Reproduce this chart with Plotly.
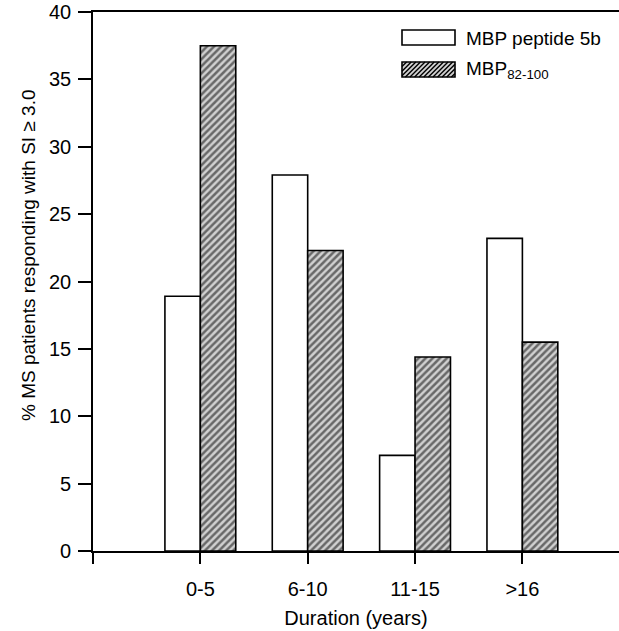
import plotly.graph_objects as go

categories = ["0-5", "6-10", "11-15", ">16"]
peptide_5b = [18.9, 27.9, 7.1, 23.2]
mbp_82_100 = [37.5, 22.3, 14.4, 15.5]
y_ticks = [0, 5, 10, 15, 20, 25, 30, 35, 40]
legend_labels = ["MBP peptide 5b", "MBP<sub>82-100</sub>"]

xpos = list(range(len(categories)))

FONT = "Liberation Sans, Arial, Helvetica, sans-serif"
W, H = 619, 631
L, R, T, B = 93, 0, 12, 80
PW, PH = W - L - R, H - T - B


def px(x):
    return (x - L) / PW


def py(y):
    return (H - B - y) / PH


HATCH = dict(shape="/", size=5, solidity=0.5, fgcolor="black", bgcolor="#d0d0d0")

fig = go.Figure()
fig.add_trace(go.Bar(
    x=xpos, y=peptide_5b, name=legend_labels[0], showlegend=False,
    marker=dict(color="white", line=dict(color="black", width=1.6)),
))
fig.add_trace(go.Bar(
    x=xpos, y=mbp_82_100, name=legend_labels[1], showlegend=False,
    marker=dict(color="white", line=dict(color="black", width=1.6), pattern=HATCH),
))

# manual legend (swatches + text)
shapes = []
annotations = []
sw_x0, sw_x1 = 402, 455
rows = [(30, 45), (62, 77)]
for i, (y0, y1) in enumerate(rows):
    shapes.append(dict(type="rect", xref="paper", yref="paper",
                       x0=px(sw_x0), x1=px(sw_x1), y0=py(y1), y1=py(y0),
                       line=dict(color="black", width=1.6),
                       fillcolor="white" if i == 0 else "#d0d0d0", layer="above"))
    if i == 1:
        wpx, hpx = sw_x1 - sw_x0, y1 - y0
        path = ""
        k = -hpx
        while k < wpx:
            t0 = max(0, -k)
            t1 = min(hpx, wpx - k)
            if t1 > t0:
                xa, ya = sw_x0 + k + t0, y1 - t0
                xb, yb = sw_x0 + k + t1, y1 - t1
                path += f"M{px(xa):.5f},{py(ya):.5f}L{px(xb):.5f},{py(yb):.5f}"
            k += 4.6
        shapes.append(dict(type="path", xref="paper", yref="paper", path=path,
                           line=dict(color="black", width=1.4), layer="above"))
    annotations.append(dict(xref="paper", yref="paper", x=px(464), y=py((y0 + y1) / 2 + 1),
                            xanchor="left", yanchor="middle", showarrow=False,
                            text=legend_labels[i], font=dict(size=19, family=FONT, color="black")))

# y-axis title
annotations.append(dict(xref="paper", yref="paper", x=px(28), y=py(255),
                        xanchor="center", yanchor="middle", showarrow=False, textangle=-90,
                        text="% MS patients responding with SI \u2265 3.0",
                        font=dict(size=19, family=FONT, color="black")))

fig.update_layout(
    width=W, height=H,
    margin=dict(l=L, r=R, t=T, b=B, autoexpand=False),
    paper_bgcolor="white", plot_bgcolor="white",
    barmode="group", bargap=0.34, bargroupgap=0,
    font=dict(family=FONT, size=20, color="black"),
    showlegend=False,
    shapes=shapes, annotations=annotations,
)
fig.update_xaxes(
    range=[-1, 3.9], automargin=False,
    tickmode="array", tickvals=[-1] + xpos, ticktext=[" "] + categories,
    ticks="outside", ticklen=11, tickwidth=1.6, tickcolor="black",
    ticklabelstandoff=8,
    showline=True, linecolor="black", linewidth=1.6, mirror=True,
    showgrid=False, zeroline=False,
    tickfont=dict(size=20, family=FONT),
    title=dict(text="Duration (years)", font=dict(size=20, family=FONT), standoff=12),
)
fig.update_yaxes(
    range=[0, 40], automargin=False, tickmode="array", tickvals=y_ticks,
    ticks="outside", ticklen=13, tickwidth=1.6, tickcolor="black",
    ticklabelstandoff=3,
    showline=True, linecolor="black", linewidth=1.6,
    showgrid=False, zeroline=False,
    tickfont=dict(size=20, family=FONT),
)

fig.write_html("out.html", config={"displayModeBar": False},
               post_script="document.body.style.margin='0';document.body.style.overflow='hidden';")
